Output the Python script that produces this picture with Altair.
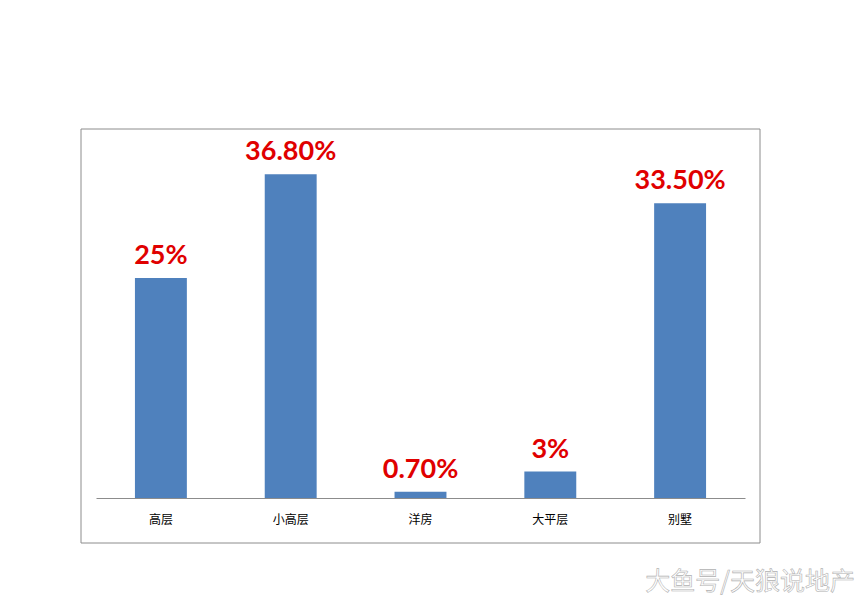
import altair as alt
import pandas as pd

categories = ["高层", "小高层", "洋房", "大平层", "别墅"]
values = [25, 36.8, 0.7, 3, 33.5]
labels = ["25%", "36.80%", "0.70%", "3%", "33.50%"]

df = pd.DataFrame({"cat": categories, "val": values, "label": labels})

x = alt.X("cat:N", sort=categories, title=None,
          scale=alt.Scale(paddingInner=0.6, paddingOuter=0.3),
          axis=alt.Axis(labelAngle=0, ticks=False, domainColor="#8c8c8c", domainWidth=1,
                        labelFont="Noto Sans CJK SC", labelFontSize=12, labelColor="#000000",
                        labelPadding=16))
y = alt.Y("val:Q", scale=alt.Scale(domain=[0, 40], nice=False), axis=None)

bars = alt.Chart(df).mark_bar(color="#4F81BD").encode(x=x, y=y)
text = alt.Chart(df).mark_text(color="#E00000", font="Lato", fontWeight="bold", fontSize=27,
                               baseline="bottom", dy=-8).encode(x=x, y=y, text="label:N")

frame = alt.Chart(pd.DataFrame({"a": [1]})).mark_rect(fill=None, stroke="#8c8c8c", strokeWidth=1).encode(
    x=alt.value(-15), x2=alt.value(664), y=alt.value(-17), y2=alt.value(397))

wm = alt.Chart(pd.DataFrame({"t": ["大鱼号/天狼说地产"]})).mark_text(
    fill="#ffffff", stroke="#b0b0b0", strokeWidth=0.6, fontSize=25, font="Noto Sans CJK SC",
    align="right", baseline="middle").encode(x=alt.value(759), y=alt.value(436), text="t:N")

chart = alt.layer(frame, bars, text, wm).properties(
    width=649, height=352,
    autosize=alt.AutoSizeParams(type="none"),
    padding={"left": 88, "top": 138, "right": 110, "bottom": 100},
    background="#ffffff",
).configure_view(stroke=None)

chart.save("out.html", embed_options={"renderer": "svg", "actions": False})
